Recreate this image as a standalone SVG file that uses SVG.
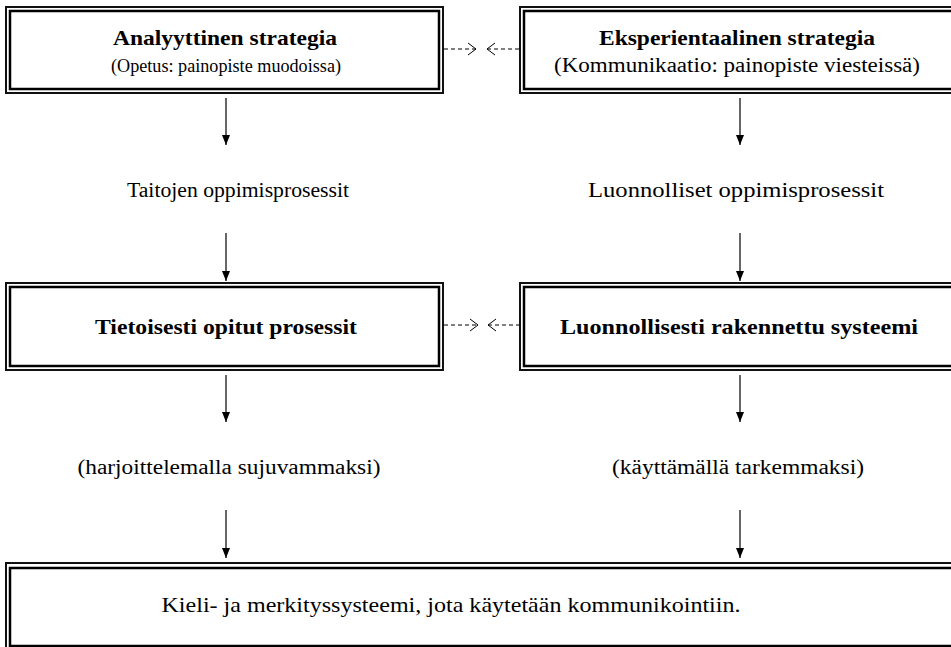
<svg xmlns="http://www.w3.org/2000/svg" width="951" height="647" viewBox="0 0 951 647">
  <style>
    text { font-family: "Liberation Serif", "Times New Roman", "DejaVu Serif", serif; fill: #000; text-anchor: middle; }
    .t { font-size: 22px; font-weight: bold; }
    .s { font-size: 20px; }
    .m { font-size: 18px; }
    .big { font-size: 22px; }
    .outer { fill: none; stroke: #111; stroke-width: 2; }
    .inner { fill: none; stroke: #000; stroke-width: 2.5; }
    .flow { stroke: #000; stroke-width: 1.2; fill: none; }
    .dash { stroke: #000; stroke-width: 1; fill: none; stroke-dasharray: 4 3; }
    .chev { stroke: #000; stroke-width: 1; fill: none; }
  </style>
  <defs>
    <marker id="tri" viewBox="0 0 10 8" refX="10" refY="4" markerWidth="10" markerHeight="8" markerUnits="userSpaceOnUse" orient="auto">
      <path d="M0,0 L10,4 L0,8 Z" fill="#000"/>
    </marker>
  </defs>
  <rect width="951" height="647" fill="#fff"/>

  <!-- strategies -->
  <g id="analyyttinen">
    <rect class="outer" x="6" y="7" width="437" height="86"/>
    <rect class="inner" x="10" y="11" width="429" height="78"/>
    <text class="t" x="225" y="45" textLength="224" lengthAdjust="spacingAndGlyphs">Analyyttinen strategia</text>
    <text class="m" x="226" y="72" textLength="230" lengthAdjust="spacingAndGlyphs">(Opetus: painopiste muodoissa)</text>
  </g>
  <g id="eksperientaalinen">
    <rect class="outer" x="520" y="7" width="440" height="86"/>
    <rect class="inner" x="524" y="11" width="432" height="78"/>
    <text class="t" x="737" y="45" textLength="276" lengthAdjust="spacingAndGlyphs">Eksperientaalinen strategia</text>
    <text class="s" x="737" y="72" textLength="366" lengthAdjust="spacingAndGlyphs">(Kommunikaatio: painopiste viesteissä)</text>
  </g>

  <!-- learning processes -->
  <g id="taitojen">
    <text class="s" x="238" y="197" textLength="222" lengthAdjust="spacingAndGlyphs">Taitojen oppimisprosessit</text>
  </g>
  <g id="luonnolliset">
    <text class="s" x="736" y="197" textLength="296" lengthAdjust="spacingAndGlyphs">Luonnolliset oppimisprosessit</text>
  </g>

  <!-- resulting systems -->
  <g id="tietoisesti">
    <rect class="outer" x="6" y="283" width="437" height="87"/>
    <rect class="inner" x="10" y="287" width="429" height="79"/>
    <text class="t" x="226" y="334" textLength="262" lengthAdjust="spacingAndGlyphs">Tietoisesti opitut prosessit</text>
  </g>
  <g id="luonnollisesti">
    <rect class="outer" x="520" y="283" width="440" height="87"/>
    <rect class="inner" x="524" y="287" width="432" height="79"/>
    <text class="t" x="739" y="334" textLength="358" lengthAdjust="spacingAndGlyphs">Luonnollisesti rakennettu systeemi</text>
  </g>

  <g id="harjoittelemalla">
    <text class="s" x="229" y="474" textLength="303" lengthAdjust="spacingAndGlyphs">(harjoittelemalla sujuvammaksi)</text>
  </g>
  <g id="kayttamalla">
    <text class="s" x="738" y="474" textLength="252" lengthAdjust="spacingAndGlyphs">(käyttämällä tarkemmaksi)</text>
  </g>

  <g id="kieli">
    <rect class="outer" x="6" y="563" width="955" height="90"/>
    <rect class="inner" x="10" y="568" width="946" height="78"/>
    <text class="big" x="451" y="612" textLength="579" lengthAdjust="spacingAndGlyphs">Kieli- ja merkityssysteemi, jota käytetään kommunikointiin.</text>
  </g>

  <!-- connectors -->
  <g id="connectors">
    <line class="flow" x1="226" y1="98" x2="226" y2="145" marker-end="url(#tri)"/>
    <line class="flow" x1="740" y1="98" x2="740" y2="145" marker-end="url(#tri)"/>
    <line class="flow" x1="226" y1="233" x2="226" y2="281" marker-end="url(#tri)"/>
    <line class="flow" x1="740" y1="233" x2="740" y2="281" marker-end="url(#tri)"/>
    <line class="flow" x1="226" y1="375" x2="226" y2="422" marker-end="url(#tri)"/>
    <line class="flow" x1="740" y1="375" x2="740" y2="422" marker-end="url(#tri)"/>
    <line class="flow" x1="226" y1="510" x2="226" y2="558" marker-end="url(#tri)"/>
    <line class="flow" x1="740" y1="510" x2="740" y2="558" marker-end="url(#tri)"/>

    <line class="dash" x1="444" y1="49" x2="476" y2="49"/>
    <path class="chev" d="M468,43 L476,49 L468,55"/>
    <line class="dash" x1="487" y1="49" x2="519" y2="49"/>
    <path class="chev" d="M495,43 L487,49 L495,55"/>

    <line class="dash" x1="444" y1="325" x2="478" y2="325"/>
    <path class="chev" d="M470,319 L478,325 L470,331"/>
    <line class="dash" x1="488" y1="325" x2="519" y2="325"/>
    <path class="chev" d="M496,319 L488,325 L496,331"/>
  </g>
</svg>
